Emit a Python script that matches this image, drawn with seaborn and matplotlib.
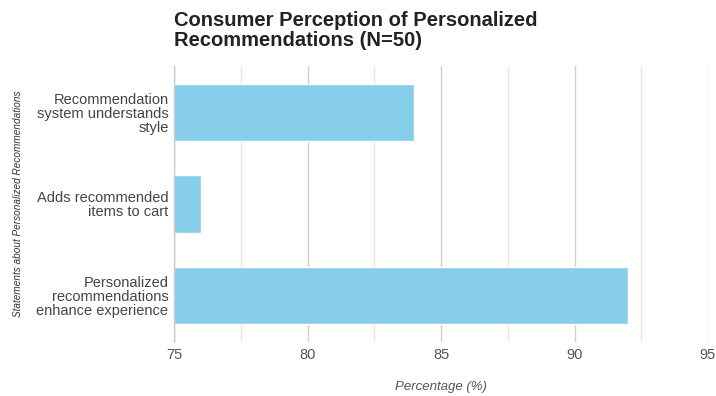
import matplotlib
matplotlib.use("Agg")
import matplotlib.pyplot as plt
import seaborn as sns
import pandas as pd

categories = [
    "Recommendation\nsystem understands\nstyle",
    "Adds recommended\nitems to cart",
    "Personalized\nrecommendations\nenhance experience",
]
percentages = [84, 76, 92]
x_ticks = [75, 80, 85, 90, 95]
minor_ticks = [77.5, 82.5, 87.5, 92.5]

sns.set_theme(style="white")
plt.rcParams['font.family'] = ['Liberation Sans', 'DejaVu Sans']

df = pd.DataFrame({"cat": categories, "pct": percentages})

fig = plt.figure(figsize=(7.16, 3.96), dpi=100)
ax = fig.add_axes([174/716, 1 - 342/396, (708 - 174)/716, (342 - 66)/396])

sns.barplot(data=df, y="cat", x="pct", orient="h", color="#87CEEB",
            saturation=1, width=0.63, ax=ax, zorder=2)

ax.set_xlim(75, 95)
ax.set_ylim(2.51, -0.51)
ax.set_xticks(x_ticks)
ax.set_xticklabels([str(t) for t in x_ticks], color="#555555", fontsize=10.5)
ax.set_xticks(minor_ticks, minor=True)
ax.grid(True, axis="x", which="major", color="#d0d0d0", linewidth=1, zorder=0)
ax.grid(True, axis="x", which="minor", color="#e8e8e8", linewidth=1, zorder=0)
ax.tick_params(axis="x", which="both", length=0, pad=4)
ax.tick_params(axis="y", length=0, pad=4, labelcolor="#444444")
for lbl in ax.get_yticklabels():
    lbl.set_fontsize(10.5)
    lbl.set_linespacing(1.0)
for s in ["top", "right", "bottom"]:
    ax.spines[s].set_visible(False)
ax.spines["left"].set_color("#cccccc")
ax.spines["left"].set_linewidth(1)

ax.set_xlabel("Percentage (%)", fontsize=9.5, style="italic", color="#555555")
ax.xaxis.set_label_coords(0.5, -(387 - 342) / 276)
ax.xaxis.label.set_va("center")
ax.set_ylabel("Statements about Personalized Recommendations", fontsize=7.2,
              style="italic", color="#333333")
ax.yaxis.set_label_coords(-(174 - 18) / 534, 0.5)
ax.yaxis.label.set_va("center")

fig.text(174/716, 1 - 11/396, "Consumer Perception of Personalized\nRecommendations (N=50)",
         fontsize=14.5, fontweight="bold", color="#222222", ha="left", va="top",
         linespacing=1.1)

fig.savefig("out.png", dpi=100, facecolor="white")
